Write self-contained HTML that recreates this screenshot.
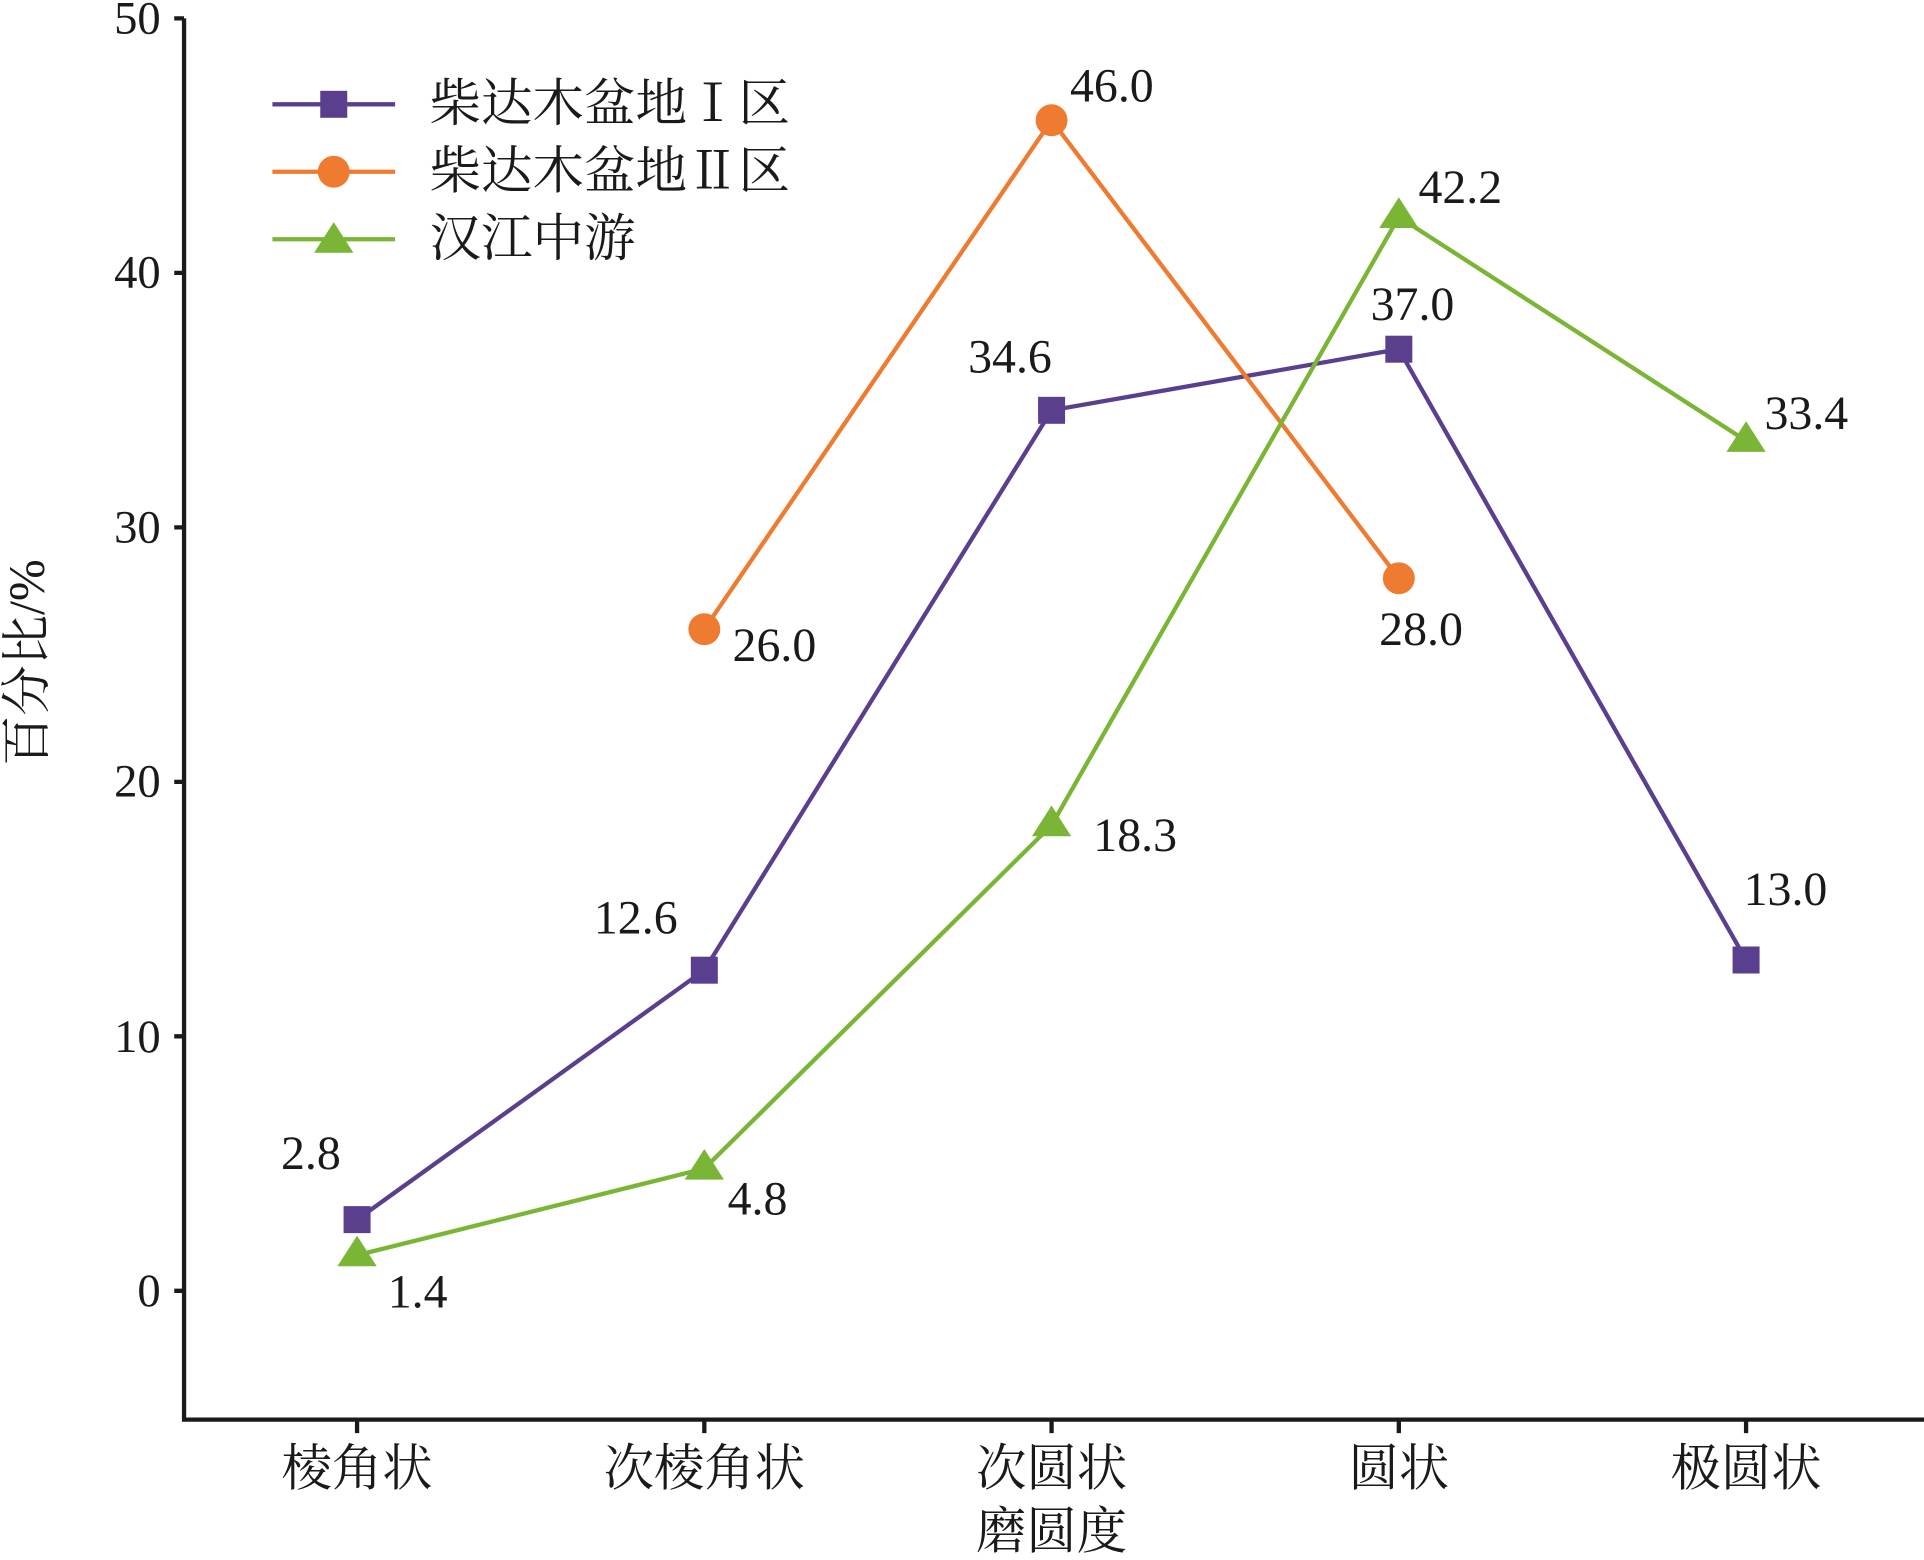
<!DOCTYPE html>
<html><head><meta charset="utf-8"><style>html,body{margin:0;padding:0;background:#fff}svg{display:block}</style></head>
<body>
<svg width="1924" height="1560" viewBox="0 0 1568 1271.4" preserveAspectRatio="none" xmlns="http://www.w3.org/2000/svg" font-family="'Liberation Serif','Noto Serif CJK SC',serif" fill="#1a1a1a">
<g stroke="#1a1a1a" stroke-width="3.5" fill="none">
<path d="M150 15V1157H1568"/>
<path d="M142 15H150M142 222.4H150M142 429.8H150M142 637.2H150M142 844.6H150M142 1052H150"/>
<path d="M291 1157V1168M574 1157V1168M857 1157V1168M1140 1157V1168M1423 1157V1168"/>
</g>
<g font-size="38" text-anchor="end" dominant-baseline="central">
<text x="131" y="15">50</text><text x="131" y="222">40</text><text x="131" y="430">30</text><text x="131" y="637">20</text><text x="131" y="845">10</text><text x="131" y="1052">0</text>
</g>
<g font-size="41" text-anchor="middle" dominant-baseline="central">
<text x="291" y="1197">棱角状</text><text x="574" y="1197">次棱角状</text><text x="857" y="1197">次圆状</text><text x="1140" y="1197">圆状</text><text x="1423" y="1197">极圆状</text>
<text x="857" y="1248">磨圆度</text>
<text transform="translate(22,540) rotate(-90)">百分比/%</text>
</g>
<polyline points="291,994 574,790.7 857,334.4 1140,284.6 1423,782.4" fill="none" stroke="#5b3f8f" stroke-width="3.5"/>
<polyline points="574,512.8 857,98 1140,471.3" fill="none" stroke="#ee7b30" stroke-width="3.5"/>
<polyline points="291,1023 574,952.4 857,672.5 1140,176.8 1423,359.3" fill="none" stroke="#7ab535" stroke-width="3.5"/>
<g fill="#5b3f8f">
<rect x="280" y="983" width="22" height="22"/><rect x="563" y="779.7" width="22" height="22"/><rect x="846" y="323.4" width="22" height="22"/><rect x="1129" y="273.6" width="22" height="22"/><rect x="1412" y="771.4" width="22" height="22"/>
</g>
<g fill="#ee7b30"><circle cx="574" cy="512.8" r="13"/><circle cx="857" cy="98" r="13"/><circle cx="1140" cy="471.3" r="13"/></g>
<g fill="#7ab535">
<path d="M291 1007l16 25h-32z"/><path d="M574 936.4l16 25h-32z"/><path d="M857 656.5l16 25h-32z"/><path d="M1140 160.8l16 25h-32z"/><path d="M1423 343.3l16 25h-32z"/>
</g>
<g font-size="39" dominant-baseline="central">
<text x="229" y="940">2.8</text><text x="484" y="748">12.6</text><text x="789" y="291">34.6</text><text x="1117" y="248">37.0</text><text x="1421" y="725">13.0</text>
<text x="597" y="526">26.0</text><text x="872" y="70">46.0</text><text x="1124" y="513">28.0</text>
<text x="316" y="1053">1.4</text><text x="593" y="977">4.8</text><text x="891" y="681">18.3</text><text x="1156" y="153">42.2</text><text x="1438" y="337">33.4</text>
</g>
<line x1="222" y1="85" x2="322" y2="85" stroke="#5b3f8f" stroke-width="3.5"/><rect x="261" y="74" width="22" height="22" fill="#5b3f8f"/>
<line x1="222" y1="140" x2="322" y2="140" stroke="#ee7b30" stroke-width="3.5"/><circle cx="272" cy="140" r="13" fill="#ee7b30"/>
<line x1="222" y1="195" x2="322" y2="195" stroke="#7ab535" stroke-width="3.5"/><path d="M272 181l16 25h-32z" fill="#7ab535"/>
<g font-size="42" dominant-baseline="central">
<text x="350" y="85">柴达木盆地Ⅰ区</text><text x="350" y="140">柴达木盆地Ⅱ区</text><text x="350" y="195">汉江中游</text>
</g>
</svg>
</body></html>
